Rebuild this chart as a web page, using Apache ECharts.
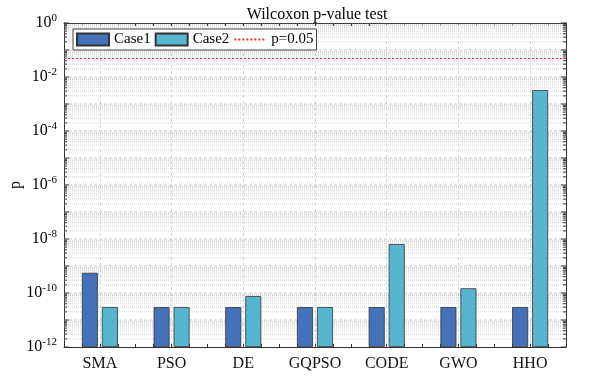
<!DOCTYPE html>
<html>
<head>
<meta charset="utf-8">
<script src="https://cdn.jsdelivr.net/npm/echarts@6/dist/echarts.min.js"></script>
<style>
  html, body { margin: 0; padding: 0; background: #fff; }
  #main { width: 593px; height: 379px; }
</style>
</head>
<body>
<div id="main"></div>
<script>
// data
var categories = ['SMA', 'PSO', 'DE', 'GQPSO', 'CODE', 'GWO', 'HHO'];
var case1 = [5.6e-10, 3.02e-11, 3.02e-11, 3.02e-11, 3.02e-11, 3.02e-11, 3.02e-11];
var case2 = [3.02e-11, 3.02e-11, 7.7e-11, 3.02e-11, 6.5e-9, 1.5e-10, 3.3e-3];
var threshold = 0.05;
var decades = [-12, -11, -10, -9, -8, -7, -6, -5, -4, -3, -2, -1, 0];
var mantissas = [2, 3, 4, 5, 6, 7, 8, 9];

var font = 'Liberation Serif';
var chart = echarts.init(document.getElementById('main'));

// log grid: [x, value, isDecade]
var gridData = [];
decades.forEach(function (e) {
    gridData.push([0, Math.pow(10, e), 1]);
    if (e < 0) {
        mantissas.forEach(function (m) {
            gridData.push([0, m * Math.pow(10, e), 0]);
        });
    }
});

// quarter-category positions for ticks / vertical grid lines
var quarters = [];
for (var i = 0; i <= categories.length * 4; i++) quarters.push(i);

function renderGrid(params, api) {
    var cs = params.coordSys;
    var y = api.coord([0, api.value(1)])[1];
    var major = api.value(2) === 1;
    var x1 = cs.x, x2 = cs.x + cs.width;
    var tl = major ? 5 : 3;
    var children = [];
    if (y > cs.y + 0.5 && y < cs.y + cs.height - 0.5) {
        children.push({
            type: 'line',
            shape: { x1: x1, y1: y, x2: x2, y2: y },
            style: major
                ? { stroke: '#bcbcbc', lineWidth: 0.8, lineDash: [3, 2] }
                : { stroke: '#c6c6c6', lineWidth: 0.8, lineDash: [1, 1] }
        });
    }
    children.push({ type: 'line', shape: { x1: x1, y1: y, x2: x1 + tl, y2: y }, style: { stroke: '#333', lineWidth: 1 } });
    children.push({ type: 'line', shape: { x1: x2 - tl, y1: y, x2: x2, y2: y }, style: { stroke: '#333', lineWidth: 1 } });
    return { type: 'group', children: children };
}

var option = {
    animation: false,
    backgroundColor: '#fff',
    title: {
        text: 'Wilcoxon p-value test',
        left: 312, top: 2, textAlign: 'center',
        textStyle: { fontFamily: font, fontSize: 16, fontWeight: 'normal', color: '#000' }
    },
    legend: {
        data: [
            { name: 'Case1', icon: 'rect' },
            { name: 'Case2', icon: 'rect' },
            { name: 'p=0.05', itemStyle: { opacity: 0 } }
        ],
        left: 73, top: 29,
        itemWidth: 32, itemHeight: 12, itemGap: 4,
        padding: [3, 3, 3, 3],
        borderColor: '#444', borderWidth: 1, backgroundColor: '#fff',
        textStyle: { fontFamily: font, fontSize: 15, color: '#000' }
    },
    grid: { left: 64, right: 27, top: 23, bottom: 32, containLabel: false, outerBoundsMode: 'none' },
    xAxis: [{
        type: 'category',
        data: categories,
        axisLine: { lineStyle: { color: '#333' } },
        axisTick: { show: false },
        axisLabel: { fontFamily: font, fontSize: 16, color: '#111', margin: 9 },
        splitLine: { show: false }
    }, {
        type: 'category', data: quarters, boundaryGap: false, position: 'bottom',
        axisLine: { show: false }, axisLabel: { show: false },
        axisTick: { show: true, inside: true, length: 3, interval: 0, lineStyle: { color: '#333' } },
        splitLine: {
            show: true,
            interval: function (idx) { return idx % 4 === 2; },
            lineStyle: { color: '#cfcfcf', type: [3, 3], width: 0.8 }
        }
    }, {
        type: 'category', data: quarters, boundaryGap: false, position: 'top',
        axisLine: { show: true, lineStyle: { color: '#333' } }, axisLabel: { show: false },
        axisTick: { show: true, inside: true, length: 3, interval: 0, lineStyle: { color: '#333' } },
        splitLine: { show: false }
    }],
    yAxis: [{
        type: 'log',
        logBase: 10,
        min: 1e-12, max: 1, interval: 2,
        startValue: 1e-12,
        name: 'p',
        nameLocation: 'middle', nameGap: 40, nameRotate: 90,
        nameMoveOverlap: false,
        nameTextStyle: { fontFamily: font, fontSize: 16, color: '#000' },
        axisLine: { show: true, lineStyle: { color: '#333' } },
        axisTick: { show: false },
        axisLabel: {
            margin: 7,
            formatter: function (v) {
                return '{b|10}{s|' + Math.round(Math.log10(v)) + '}';
            },
            rich: {
                b: { fontFamily: font, fontSize: 16, color: '#000' },
                s: { fontFamily: font, fontSize: 11, color: '#000', padding: [0, 0, 10, 0] }
            }
        },
        splitLine: { show: false }
    }, {
        type: 'log',
        logBase: 10,
        min: 1e-12, max: 1, interval: 2,
        position: 'right',
        axisLine: { show: true, lineStyle: { color: '#333' } },
        axisTick: { show: false },
        axisLabel: { show: false },
        splitLine: { show: false }
    }],
    series: [{
        name: 'grid',
        type: 'custom',
        data: gridData,
        z: 1,
        silent: true,
        renderItem: renderGrid
    }, {
        name: 'Case1',
        type: 'bar',
        data: case1,
        barWidth: 16,
        barGap: '25%',
        z: 3,
        itemStyle: { color: '#4471b8', borderColor: '#333', borderWidth: 0.8 }
    }, {
        name: 'Case2',
        type: 'bar',
        data: case2,
        barWidth: 16,
        z: 3,
        itemStyle: { color: '#56b5cf', borderColor: '#333', borderWidth: 0.8 }
    }, {
        name: 'p=0.05',
        type: 'line',
        data: [],
        symbol: 'none',
        z: 2,
        itemStyle: { color: '#e83030' },
        lineStyle: { color: '#e83030', type: [2, 2], width: 1 },
        markLine: {
            silent: true, symbol: 'none', label: { show: false },
            lineStyle: { color: '#e83030', type: [2, 2], width: 1 },
            data: [{ yAxis: threshold }]
        }
    }]
};

chart.setOption(option);
</script>
</body>
</html>
